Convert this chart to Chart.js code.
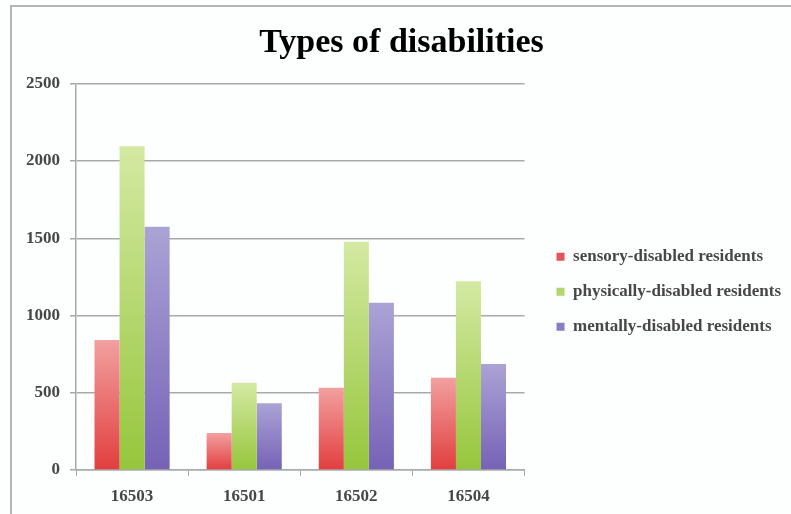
<!DOCTYPE html>
<html>
<head>
<meta charset="utf-8">
<script src="https://cdn.jsdelivr.net/npm/chart.js@4.4.1/dist/chart.umd.min.js"></script>
<style>
  html, body { margin: 0; padding: 0; background: #ffffff; }
  #wrap { width: 791px; height: 514px; position: relative; }
</style>
</head>
<body>
<div id="wrap"><canvas id="c"></canvas></div>
<script>
// Residents by disability type, per postal district
const categories = ['16503', '16501', '16502', '16504'];
const sensory = [842, 240, 532, 597];
const physical = [2095, 565, 1478, 1222];
const mental = [1575, 432, 1082, 686];
const seriesNames = ['sensory-disabled residents', 'physically-disabled residents', 'mentally-disabled residents'];
const yTicks = [0, 500, 1000, 1500, 2000, 2500];

// light top / saturated base / legend swatch, one row per series
const seriesTones = [
  ['#f2a0a0', '#e23e3e', '#e6535b'],
  ['#d4e9a3', '#96c63c', '#b3d66c'],
  ['#aba3d5', '#7562b6', '#8a7cc6']
];

const SERIF = '"Liberation Serif", "DejaVu Serif", serif';
const GRID = '#a9a9a9';
const TEXT = '#474747';

// vertical gradient per bar: light at the top, saturated at the base
function barFill(light, dark) {
  return (ctx) => {
    const chart = ctx.chart;
    if (!chart.chartArea || ctx.type !== 'data') return dark;
    const y = chart.scales.y;
    const top = y.getPixelForValue(ctx.raw);
    const base = y.getPixelForValue(0);
    if (!isFinite(top) || !isFinite(base) || base - top < 1) return dark;
    const g = chart.ctx.createLinearGradient(0, top, 0, base);
    g.addColorStop(0, light);
    g.addColorStop(1, dark);
    return g;
  };
}

// white sheet with a grey frame along the top and left edges
const sheet = {
  id: 'sheet',
  beforeDraw(chart) {
    const c = chart.ctx;
    c.save();
    c.fillStyle = '#fdfefe';
    c.fillRect(0, 0, chart.width, chart.height);
    c.fillStyle = '#b4b4b4';
    c.fillRect(10, 5, chart.width - 10, 2);
    c.fillRect(10, 5, 2, chart.height - 5);
    c.restore();
  }
};

const seriesData = [sensory, physical, mental];

new Chart(document.getElementById('c'), {
  type: 'bar',
  data: {
    labels: categories,
    datasets: seriesData.map((d, i) => ({
      label: seriesNames[i],
      data: d,
      backgroundColor: barFill(seriesTones[i][0], seriesTones[i][1])
    }))
  },
  options: {
    responsive: true,
    maintainAspectRatio: false,
    animation: false,
    layout: { padding: { left: 12, top: 6, right: 0, bottom: 0 } },
    datasets: {
      bar: { categoryPercentage: 0.67, barPercentage: 1.0, borderWidth: 0 }
    },
    plugins: {
      title: {
        display: true,
        text: 'Types of disabilities',
        color: '#000000',
        font: { family: SERIF, size: 34, weight: 'bold' },
        padding: { top: 17, bottom: 20 }
      },
      legend: {
        display: true,
        position: 'right',
        maxWidth: 300,
        title: { display: true, text: '', padding: { top: 49, bottom: 0 } },
        labels: {
          color: TEXT,
          font: { family: SERIF, size: 17, weight: 'bold' },
          boxWidth: 8,
          boxHeight: 8,
          padding: 18,
          generateLabels(chart) {
            const items = Chart.defaults.plugins.legend.labels.generateLabels(chart);
            items.forEach((it, i) => {
              it.fillStyle = seriesTones[i][2];
              it.strokeStyle = seriesTones[i][2];
              it.lineWidth = 0;
            });
            return items;
          }
        }
      },
      tooltip: { enabled: false }
    },
    scales: {
      x: {
        grid: { drawOnChartArea: false, drawTicks: true, tickLength: 6, color: GRID, offset: true },
        border: { display: true, color: GRID, width: 1.5 },
        ticks: { color: TEXT, font: { family: SERIF, size: 17, weight: 'bold' }, padding: 10 },
        afterFit(s) { s.height = 44; }
      },
      y: {
        min: 0,
        max: 2500,
        afterBuildTicks(s) { s.ticks = yTicks.map(v => ({ value: v })); },
        grid: { color: GRID, lineWidth: 1.5, tickLength: 6 },
        border: { display: true, color: GRID, width: 1.5 },
        ticks: {
          color: TEXT,
          font: { family: SERIF, size: 17, weight: 'bold' },
          padding: 10,
          callback: (v) => String(v)
        },
        afterFit(s) { s.width = 64; }
      },
      gap: {
        type: 'linear',
        position: 'right',
        display: true,
        grid: { display: false },
        border: { display: false },
        ticks: { display: false },
        afterFit(s) { s.width = 14; }
      }
    }
  },
  plugins: [sheet]
});
</script>
</body>
</html>
